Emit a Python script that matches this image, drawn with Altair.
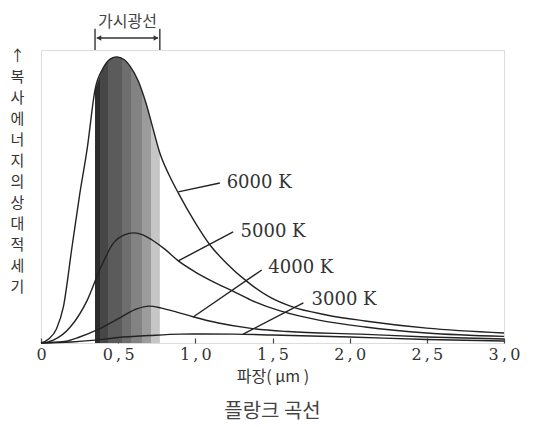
import json
import altair as alt
import pandas as pd

# ---- data (relative intensity, 6000 K peak = 100) ----
wl_6000 = [0, 0.05, 0.10, 0.145, 0.20, 0.25, 0.30, 0.35, 0.40, 0.45, 0.49, 0.54, 0.58, 0.63, 0.68, 0.73, 0.77, 0.83, 0.89, 1.0, 1.1, 1.2, 1.33, 1.48, 1.63, 1.85, 2.1, 2.5, 3.0]
I_6000 = [0, 1.4, 4.9, 12.6, 33.2, 51.7, 68.2, 88.5, 95.8, 99.3, 100, 99.0, 96.5, 91.6, 83.9, 74.1, 66.4, 58.7, 52.4, 42.0, 33.9, 28.0, 21.7, 16.1, 12.6, 9.8, 7.7, 5.2, 3.5]

wl_5000 = [0, 0.08, 0.19, 0.30, 0.38, 0.47, 0.54, 0.60, 0.66, 0.72, 0.80, 0.89, 1.0, 1.12, 1.24, 1.36, 1.55, 1.8, 2.1, 2.5, 3.0]
I_5000 = [0, 1.0, 5.6, 15.0, 25.5, 35.0, 37.8, 38.5, 37.8, 36.0, 32.9, 28.7, 24.8, 21.3, 18.2, 15.0, 11.2, 8.0, 5.6, 3.5, 2.3]

wl_4000 = [0, 0.15, 0.25, 0.36, 0.45, 0.53, 0.62, 0.70, 0.78, 0.88, 0.99, 1.15, 1.35, 1.6, 2.07, 2.5, 3.0]
I_4000 = [0, 0.5, 2.1, 4.5, 7.0, 9.4, 11.9, 12.9, 12.2, 10.8, 9.1, 7.0, 5.2, 4.0, 3.1, 2.1, 1.4]

wl_3000 = [0, 0.2, 0.35, 0.5, 0.7, 0.9, 1.05, 1.25, 1.5, 2.0, 2.5, 3.0]
I_3000 = [0, 0.35, 1.0, 1.9, 2.6, 3.1, 3.15, 3.1, 2.8, 2.1, 1.2, 0.7]

temps = ["6000 K", "5000 K", "4000 K", "3000 K"]
ptr_x1 = [0.889, 0.889, 0.986, 1.31]
ptr_y1 = [52.8, 28.7, 9.1, 3.1]
ptr_x2 = [1.159, 1.245, 1.43, 1.70]
ptr_y2 = [55.9, 38.8, 25.5, 14.0]
lab_x = [1.19, 1.28, 1.46, 1.74]
lab_y = [55.9, 38.8, 26.2, 15.0]

visible = [0.35, 0.77]          # visible-light band (µm)
tick_vals = [0, 0.5, 1.0, 1.5, 2.0, 2.5, 3.0]
tick_labels = ["0", "0\u2009,\u20095", "1\u2009,\u20090", "1\u2009,\u20095",
               "2\u2009,\u20090", "2\u2009,\u20095", "3\u2009,\u20090"]
y_title = ["↑", "복", "사", "에", "너", "지", "의", "상", "대", "적", "세", "기"]

# ---- tables ----
rows = []
for name, wl, val in [("6000 K", wl_6000, I_6000), ("5000 K", wl_5000, I_5000),
                      ("4000 K", wl_4000, I_4000), ("3000 K", wl_3000, I_3000)]:
    for w, v in zip(wl, val):
        rows.append({"T": name, "wl": w, "I": v})
df = pd.DataFrame(rows)
band_df = df[(df["T"] == "6000 K") & (df["wl"] >= visible[0]) & (df["wl"] <= visible[1])]

ptr_df = pd.DataFrame({"T": temps, "wl": ptr_x1, "I": ptr_y1, "wl2": ptr_x2, "I2": ptr_y2})
lab_df = pd.DataFrame({"T": temps, "wl": lab_x, "I": lab_y})

bar_df = pd.DataFrame({"wl": visible, "I": [102.4, 102.4], "I2": [109.8, 109.8]})
arr_df = pd.DataFrame({"wl": [0.362], "wl2": [0.758], "I": [106.6]})
head_df = pd.DataFrame({"wl": [0.375, 0.745], "I": [106.6, 106.6], "s": ["triangle-left", "triangle-right"]})
vis_lab_df = pd.DataFrame({"wl": [0.56], "I": [112.2], "t": ["가시광선"]})

xs = alt.Scale(domain=[0, 3.0], nice=False, zero=False)
ys = alt.Scale(domain=[0, 102.4], nice=False)

label_expr = f"{json.dumps(tick_labels)}[indexof({json.dumps(tick_vals)}, datum.value)]"

x_axis = alt.Axis(
    values=tick_vals, labelExpr=label_expr, offset=-5, tickSize=5, domain=False, grid=False,
    tickColor="#444", tickWidth=1.2, labelPadding=3, labelFont="DejaVu Serif", labelFontSize=16,
    labelColor="#333", labelFlush=False, title="파장( μm )", titleFont="Noto Sans CJK KR",
    titleFontSize=16, titleFontWeight="normal", titleColor="#333", titlePadding=6,
)
y_axis = alt.Axis(
    title=y_title, titleAngle=0, titleX=-24, titleY=5, titleBaseline="middle", titleAlign="center",
    titleFont="Noto Sans CJK KR", titleFontSize=15, titleFontWeight="normal", titleColor="#333",
    titleLineHeight=21, ticks=False, labels=False, domain=False, grid=False,
)


def X(field="wl"):
    return alt.X(f"{field}:Q", scale=xs, axis=x_axis)


def Y(field="I"):
    return alt.Y(f"{field}:Q", scale=ys, axis=y_axis)


stops = [
    ("#2c2c2c", 0.0), ("#2c2c2c", 0.08), ("#474747", 0.08), ("#474747", 0.2),
    ("#5b5b5b", 0.2), ("#5b5b5b", 0.42), ("#6e6e6e", 0.42), ("#6e6e6e", 0.55),
    ("#838383", 0.55), ("#838383", 0.72), ("#9c9c9c", 0.72), ("#9c9c9c", 0.86),
    ("#c6c6c6", 0.86), ("#c6c6c6", 1.0),
]
grad = alt.LinearGradient(
    gradient="linear", x1=0, x2=1, y1=0, y2=0,
    stops=[alt.GradientStop(color=c, offset=o) for c, o in stops],
)

band = alt.Chart(band_df).mark_area(interpolate="monotone", color=grad).encode(x=X(), y=Y())

lines = alt.Chart(df).mark_line(interpolate="monotone", color="#222", strokeWidth=1.4).encode(
    x=X(), y=Y(), detail="T:N",
)

ptrs = alt.Chart(ptr_df).mark_rule(color="#222", strokeWidth=1.4).encode(
    x=X(), x2="wl2:Q", y=Y(), y2="I2:Q",
)

labels = alt.Chart(lab_df).mark_text(
    align="left", baseline="middle", font="DejaVu Serif", fontSize=18, color="#333", dx=2
).encode(x=X(), y=Y(), text="T:N")

bars = alt.Chart(bar_df).mark_rule(color="#333", strokeWidth=1.4).encode(
    x=X(), y=Y(), y2="I2:Q",
)
arrow = alt.Chart(arr_df).mark_rule(color="#333", strokeWidth=1.4).encode(
    x=X(), x2="wl2:Q", y=Y(),
)
heads = alt.Chart(head_df).mark_point(filled=True, color="#333", size=30, opacity=1).encode(
    x=X(), y=Y(), shape=alt.Shape("s:N", scale=None, legend=None),
)
vis_lab = alt.Chart(vis_lab_df).mark_text(
    font="Noto Sans CJK KR", fontSize=16, color="#444", baseline="middle"
).encode(x=X(), y=Y(), text="t:N")

chart = alt.layer(band, lines, ptrs, labels, bars, arrow, heads, vis_lab).properties(
    width=463, height=293,
    autosize=alt.AutoSizeParams(type="none"),
    padding={"left": 33, "top": 42, "right": 32, "bottom": 82},
    title=alt.TitleParams(
        "플랑크 곡선", orient="bottom", offset=18, fontSize=20, font="Noto Sans CJK KR",
        fontWeight="normal", color="#444", anchor="middle",
    ),
).configure_view(stroke="#555", strokeWidth=1.5).configure(background="white")

chart.save("out.html", embed_options={"renderer": "svg", "actions": False})
